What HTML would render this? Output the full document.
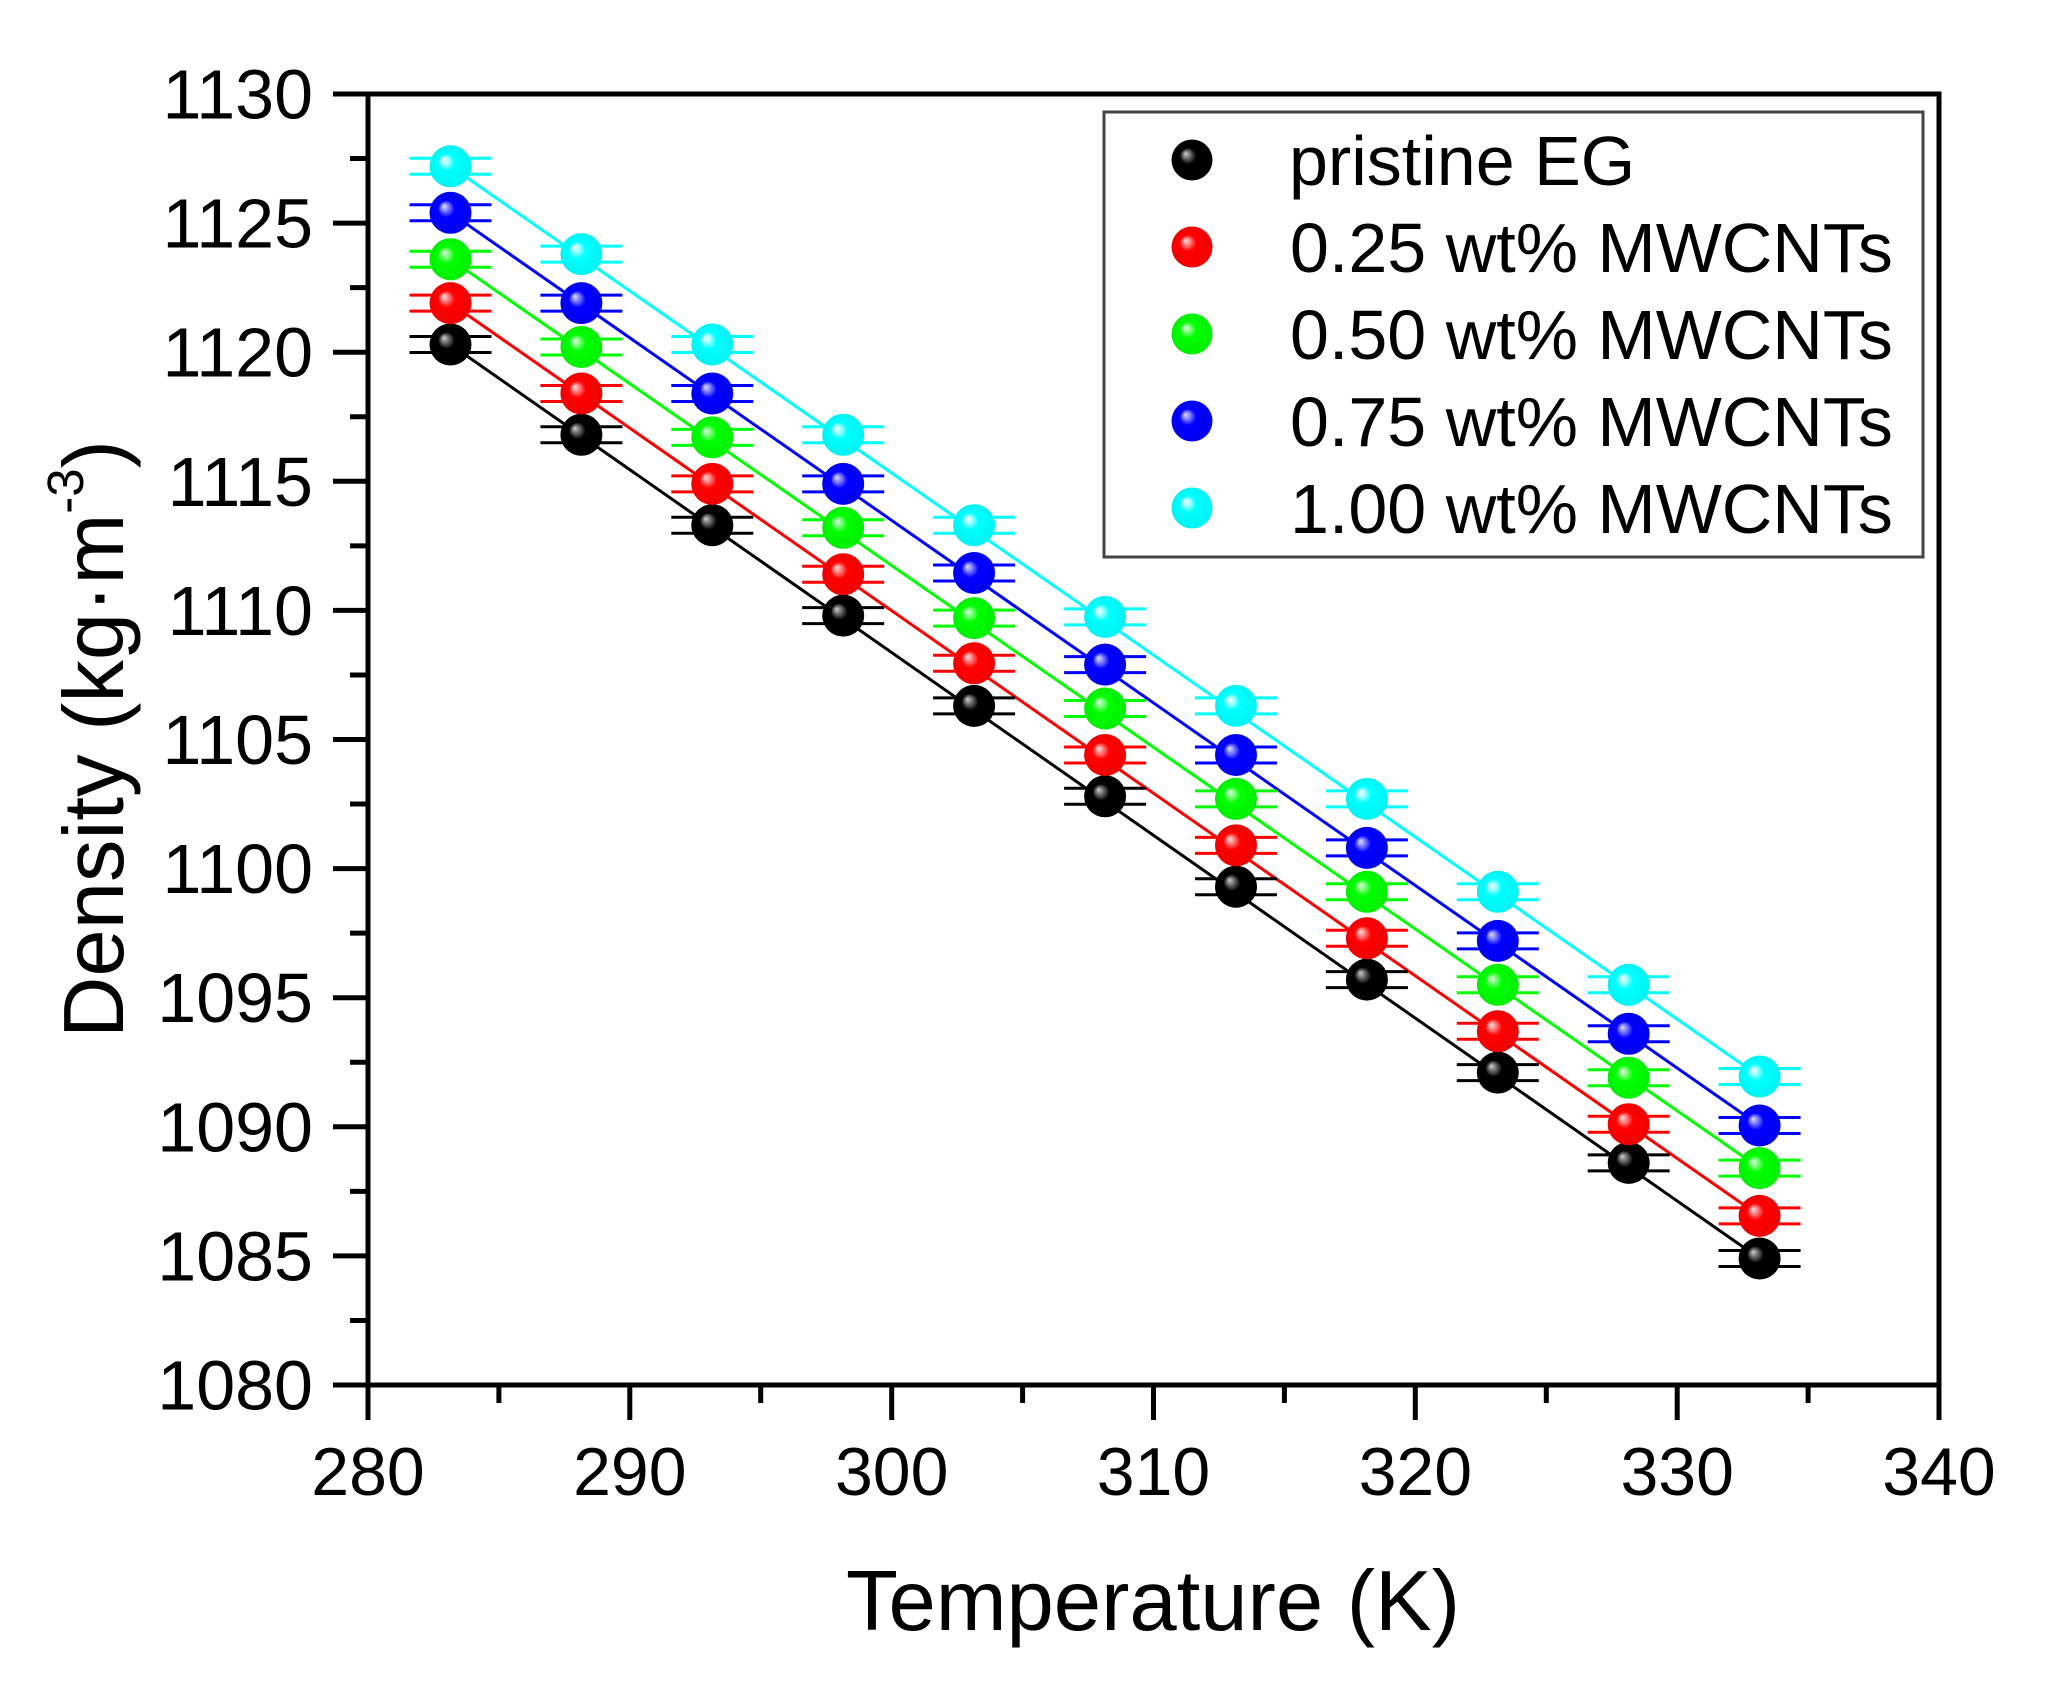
<!DOCTYPE html>
<html>
<head>
<meta charset="utf-8">
<style>
html,body{margin:0;padding:0;background:#fff;}
svg{display:block;}
text{font-family:"Liberation Sans",Arial,sans-serif;fill:#000;}
</style>
</head>
<body>
<svg width="2046" height="1681" viewBox="0 0 2046 1681" xmlns="http://www.w3.org/2000/svg">
<defs>
<radialGradient id="gk" cx="0.5" cy="0.5" r="0.5" fx="0.34" fy="0.34"><stop offset="0" stop-color="#d0d0d0"/><stop offset="0.18" stop-color="#707070"/><stop offset="0.4" stop-color="#000"/><stop offset="1" stop-color="#000"/></radialGradient>
<radialGradient id="gr" cx="0.5" cy="0.5" r="0.5" fx="0.34" fy="0.34"><stop offset="0" stop-color="#ffe0e0"/><stop offset="0.18" stop-color="#ff8080"/><stop offset="0.4" stop-color="#ff0000"/><stop offset="1" stop-color="#f00000"/></radialGradient>
<radialGradient id="gg" cx="0.5" cy="0.5" r="0.5" fx="0.34" fy="0.34"><stop offset="0" stop-color="#e0ffe0"/><stop offset="0.18" stop-color="#80ff80"/><stop offset="0.4" stop-color="#00ff00"/><stop offset="1" stop-color="#00f000"/></radialGradient>
<radialGradient id="gb" cx="0.5" cy="0.5" r="0.5" fx="0.34" fy="0.34"><stop offset="0" stop-color="#e0e0ff"/><stop offset="0.18" stop-color="#8080ff"/><stop offset="0.4" stop-color="#0000ff"/><stop offset="1" stop-color="#0000f0"/></radialGradient>
<radialGradient id="gc" cx="0.5" cy="0.5" r="0.5" fx="0.34" fy="0.34"><stop offset="0" stop-color="#f0ffff"/><stop offset="0.18" stop-color="#a0ffff"/><stop offset="0.4" stop-color="#00ffff"/><stop offset="1" stop-color="#00f4f4"/></radialGradient>
</defs>

<rect width="2046" height="1681" fill="#fff"/>

<!-- fit lines -->
<g stroke-width="3" fill="none">
<line x1="450.5" y1="344.5" x2="1759.6" y2="1258.5" stroke="#000"/>
<line x1="450.5" y1="303.1" x2="1759.6" y2="1215.9" stroke="#ff0000"/>
<line x1="450.5" y1="259.2" x2="1759.6" y2="1168.1" stroke="#00ff00"/>
<line x1="450.5" y1="212.8" x2="1759.6" y2="1125.5" stroke="#0000ff"/>
<line x1="450.5" y1="166.3" x2="1759.6" y2="1076.5" stroke="#00ffff"/>
</g>

<!-- error bar caps -->
<g stroke-width="3" fill="none">
<path stroke="#000" d="M409.5 336.5h82M409.5 352.5h82 M540.4 426.8h82M540.4 442.8h82 M671.3 517.2h82M671.3 533.2h82 M802.2 607.6h82M802.2 623.6h82 M933.1 697.9h82M933.1 713.9h82 M1064.1 788.3h82M1064.1 804.3h82 M1195 878.7h82M1195 894.7h82 M1325.9 971.6h82M1325.9 987.6h82 M1456.8 1064.6h82M1456.8 1080.6h82 M1587.7 1154.9h82M1587.7 1170.9h82 M1718.6 1250.5h82M1718.6 1266.5h82"/>
<path stroke="#ff0000" d="M409.5 295.1h82M409.5 311.1h82 M540.4 385.5h82M540.4 401.5h82 M671.3 475.9h82M671.3 491.9h82 M802.2 566.3h82M802.2 582.3h82 M933.1 655.3h82M933.1 671.3h82 M1064.1 747h82M1064.1 763h82 M1195 837.4h82M1195 853.4h82 M1325.9 930.3h82M1325.9 946.3h82 M1456.8 1023.3h82M1456.8 1039.3h82 M1587.7 1116.2h82M1587.7 1132.2h82 M1718.6 1207.9h82M1718.6 1223.9h82"/>
<path stroke="#00ff00" d="M409.5 251.2h82M409.5 267.2h82 M540.4 339h82M540.4 355h82 M671.3 429.4h82M671.3 445.4h82 M802.2 519.8h82M802.2 535.8h82 M933.1 610.1h82M933.1 626.1h82 M1064.1 700.5h82M1064.1 716.5h82 M1195 790.9h82M1195 806.9h82 M1325.9 883.8h82M1325.9 899.8h82 M1456.8 976.8h82M1456.8 992.8h82 M1587.7 1069.7h82M1587.7 1085.7h82 M1718.6 1160.1h82M1718.6 1176.1h82"/>
<path stroke="#0000ff" d="M409.5 204.8h82M409.5 220.8h82 M540.4 295.1h82M540.4 311.1h82 M671.3 385.5h82M671.3 401.5h82 M802.2 475.9h82M802.2 491.9h82 M933.1 565h82M933.1 581h82 M1064.1 656.6h82M1064.1 672.6h82 M1195 747h82M1195 763h82 M1325.9 839.9h82M1325.9 855.9h82 M1456.8 932.9h82M1456.8 948.9h82 M1587.7 1025.8h82M1587.7 1041.8h82 M1718.6 1117.5h82M1718.6 1133.5h82"/>
<path stroke="#00ffff" d="M409.5 158.3h82M409.5 174.3h82 M540.4 246.1h82M540.4 262.1h82 M671.3 336.5h82M671.3 352.5h82 M802.2 426.8h82M802.2 442.8h82 M933.1 517.2h82M933.1 533.2h82 M1064.1 608.9h82M1064.1 624.9h82 M1195 697.9h82M1195 713.9h82 M1325.9 790.9h82M1325.9 806.9h82 M1456.8 883.8h82M1456.8 899.8h82 M1587.7 976.8h82M1587.7 992.8h82 M1718.6 1068.5h82M1718.6 1084.5h82"/>
</g>

<!-- markers -->
<g fill="url(#gk)">
<circle cx="450.5" cy="344.5" r="21"/><circle cx="581.4" cy="434.8" r="21"/><circle cx="712.3" cy="525.2" r="21"/><circle cx="843.2" cy="615.6" r="21"/><circle cx="974.1" cy="705.9" r="21"/><circle cx="1105.1" cy="796.3" r="21"/><circle cx="1236" cy="886.7" r="21"/><circle cx="1366.9" cy="979.6" r="21"/><circle cx="1497.8" cy="1072.6" r="21"/><circle cx="1628.7" cy="1162.9" r="21"/><circle cx="1759.6" cy="1258.5" r="21"/>
</g>
<g fill="url(#gr)">
<circle cx="450.5" cy="303.1" r="21"/><circle cx="581.4" cy="393.5" r="21"/><circle cx="712.3" cy="483.9" r="21"/><circle cx="843.2" cy="574.3" r="21"/><circle cx="974.1" cy="663.3" r="21"/><circle cx="1105.1" cy="755" r="21"/><circle cx="1236" cy="845.4" r="21"/><circle cx="1366.9" cy="938.3" r="21"/><circle cx="1497.8" cy="1031.3" r="21"/><circle cx="1628.7" cy="1124.2" r="21"/><circle cx="1759.6" cy="1215.9" r="21"/>
</g>
<g fill="url(#gg)">
<circle cx="450.5" cy="259.2" r="21"/><circle cx="581.4" cy="347" r="21"/><circle cx="712.3" cy="437.4" r="21"/><circle cx="843.2" cy="527.8" r="21"/><circle cx="974.1" cy="618.1" r="21"/><circle cx="1105.1" cy="708.5" r="21"/><circle cx="1236" cy="798.9" r="21"/><circle cx="1366.9" cy="891.8" r="21"/><circle cx="1497.8" cy="984.8" r="21"/><circle cx="1628.7" cy="1077.7" r="21"/><circle cx="1759.6" cy="1168.1" r="21"/>
</g>
<g fill="url(#gb)">
<circle cx="450.5" cy="212.8" r="21"/><circle cx="581.4" cy="303.1" r="21"/><circle cx="712.3" cy="393.5" r="21"/><circle cx="843.2" cy="483.9" r="21"/><circle cx="974.1" cy="573" r="21"/><circle cx="1105.1" cy="664.6" r="21"/><circle cx="1236" cy="755" r="21"/><circle cx="1366.9" cy="847.9" r="21"/><circle cx="1497.8" cy="940.9" r="21"/><circle cx="1628.7" cy="1033.8" r="21"/><circle cx="1759.6" cy="1125.5" r="21"/>
</g>
<g fill="url(#gc)">
<circle cx="450.5" cy="166.3" r="21"/><circle cx="581.4" cy="254.1" r="21"/><circle cx="712.3" cy="344.5" r="21"/><circle cx="843.2" cy="434.8" r="21"/><circle cx="974.1" cy="525.2" r="21"/><circle cx="1105.1" cy="616.9" r="21"/><circle cx="1236" cy="705.9" r="21"/><circle cx="1366.9" cy="798.9" r="21"/><circle cx="1497.8" cy="891.8" r="21"/><circle cx="1628.7" cy="984.8" r="21"/><circle cx="1759.6" cy="1076.5" r="21"/>
</g>

<!-- axes frame -->
<g stroke="#000" stroke-width="5" fill="none" stroke-linecap="butt">
<line x1="333" y1="94" x2="1941.5" y2="94"/>
<line x1="368" y1="91.5" x2="368" y2="1420"/>
<line x1="333" y1="1385" x2="1941.5" y2="1385"/>
<line x1="1939" y1="91.5" x2="1939" y2="1420"/>
<path d="M333 223.1h35M333 352.2h35M333 481.3h35M333 610.4h35M333 739.5h35M333 868.6h35M333 997.7h35M333 1126.8h35M333 1255.9h35"/>
<path d="M350 158.55h18M350 287.65h18M350 416.75h18M350 545.85h18M350 674.95h18M350 804.05h18M350 933.15h18M350 1062.25h18M350 1191.35h18M350 1320.45h18"/>
<path d="M629.8 1385v35M891.7 1385v35M1153.5 1385v35M1415.3 1385v35M1677.2 1385v35"/>
<path d="M498.9 1385v18M760.7 1385v18M1022.6 1385v18M1284.4 1385v18M1546.3 1385v18M1808.1 1385v18"/>
</g>

<!-- y tick labels -->
<g font-size="70" text-anchor="end">
<text x="313" y="118.5">1130</text>
<text x="313" y="247.6">1125</text>
<text x="313" y="376.7">1120</text>
<text x="313" y="505.8">1115</text>
<text x="313" y="634.9">1110</text>
<text x="313" y="764">1105</text>
<text x="313" y="893.1">1100</text>
<text x="313" y="1022.2">1095</text>
<text x="313" y="1151.3">1090</text>
<text x="313" y="1280.4">1085</text>
<text x="313" y="1409.5">1080</text>
</g>

<!-- x tick labels -->
<g font-size="68" text-anchor="middle">
<text x="368" y="1495">280</text>
<text x="629.8" y="1495">290</text>
<text x="891.7" y="1495">300</text>
<text x="1153.5" y="1495">310</text>
<text x="1415.3" y="1495">320</text>
<text x="1677.2" y="1495">330</text>
<text x="1939" y="1495">340</text>
</g>

<!-- axis titles -->
<text x="1153" y="1630" font-size="85" text-anchor="middle">Temperature (K)</text>
<text transform="translate(123,739) rotate(-90)" font-size="85" text-anchor="middle">Density (kg·m<tspan font-size="51" dy="-40">-3</tspan><tspan dy="40">)</tspan></text>

<!-- legend -->
<rect x="1104" y="112" width="819" height="445" fill="#fff" stroke="#444" stroke-width="3"/>
<circle cx="1192" cy="160" r="20.5" fill="url(#gk)"/>
<circle cx="1192" cy="247" r="20.5" fill="url(#gr)"/>
<circle cx="1192" cy="334" r="20.5" fill="url(#gg)"/>
<circle cx="1192" cy="421" r="20.5" fill="url(#gb)"/>
<circle cx="1192" cy="508" r="20.5" fill="url(#gc)"/>
<g font-size="70">
<text x="1289" y="185">pristine EG</text>
<text x="1290" y="272">0.25 wt% MWCNTs</text>
<text x="1290" y="359">0.50 wt% MWCNTs</text>
<text x="1290" y="446">0.75 wt% MWCNTs</text>
<text x="1290" y="533">1.00 wt% MWCNTs</text>
</g>
</svg>
</body>
</html>
